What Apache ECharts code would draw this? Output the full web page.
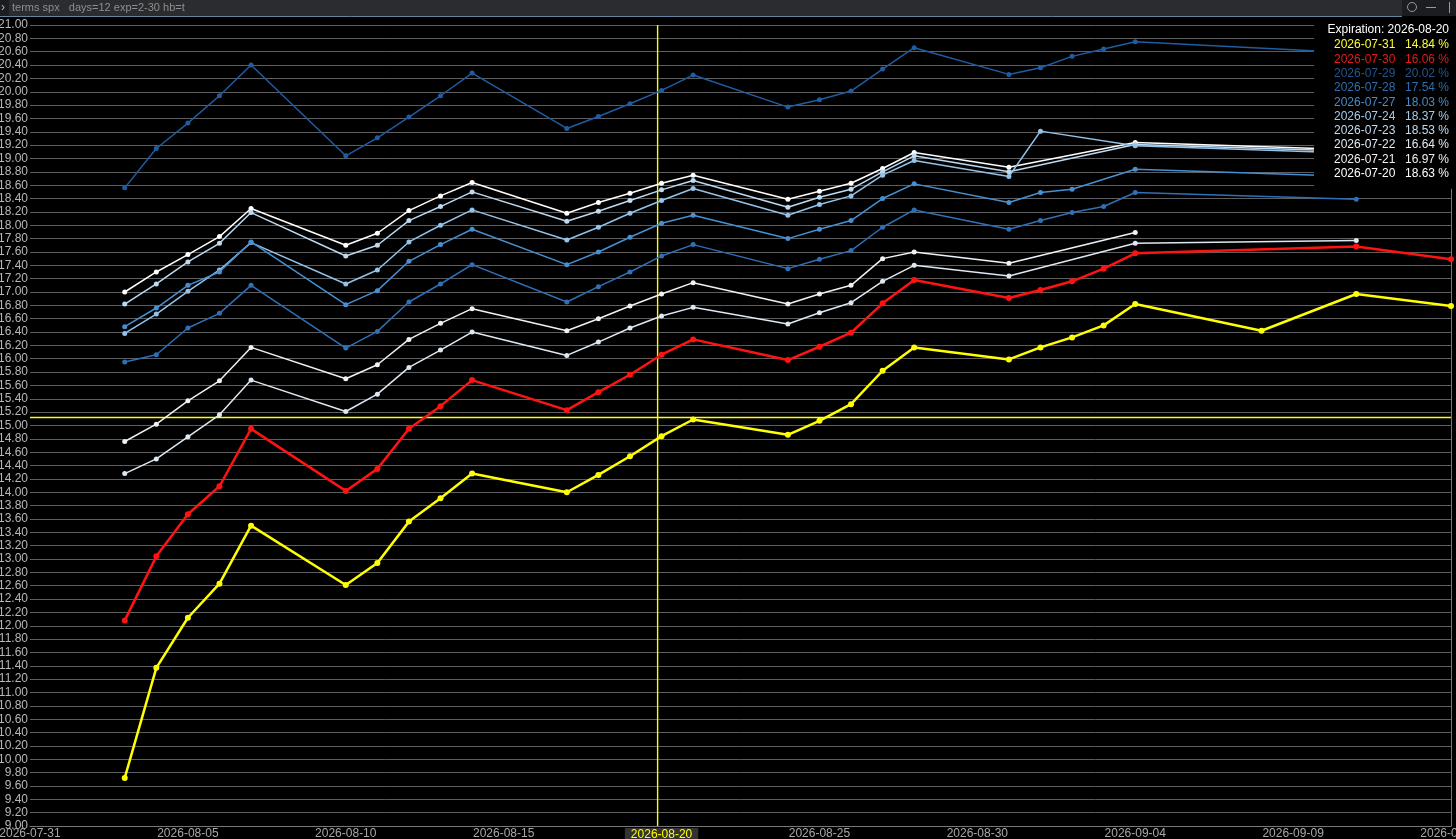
<!DOCTYPE html>
<html>
<head>
<meta charset="utf-8">
<title>terms spx</title>
<script src="https://cdn.jsdelivr.net/npm/echarts@6/dist/echarts.min.js"></script>
<style>
  html, body { margin: 0; padding: 0; background: #000; overflow: hidden; }
  #chart { width: 1456px; height: 839px; }
</style>
</head>
<body>
<div id="chart"></div>
<script>
// expiration dates on the x axis
var expiries = ['2026-08-03', '2026-08-04', '2026-08-05', '2026-08-06', '2026-08-07',
    '2026-08-10', '2026-08-11', '2026-08-12', '2026-08-13', '2026-08-14',
    '2026-08-17', '2026-08-18', '2026-08-19', '2026-08-20', '2026-08-21',
    '2026-08-24', '2026-08-25', '2026-08-26', '2026-08-27', '2026-08-28',
    '2026-08-31', '2026-09-01', '2026-09-02', '2026-09-03', '2026-09-04',
    '2026-09-08', '2026-09-11', '2026-09-14'];

var xFirstTick = '2026-07-31';
var xLastTick = '2026-09-14';
var xTickDays = 5;
var yMin = 9, yMax = 21, yStep = 0.2;

// crosshair
var expirationDate = '2026-08-20';
var crossX = '2026-08-19T21:00';
var crossY = 15.12;

// term structure per trade date (null = no point on that expiry)
var iv0731 = [9.72, 11.37, 12.12, 12.63, 13.50, 12.61, 12.94, 13.56, 13.91, 14.28,
    14.00, 14.26, 14.54, 14.84, 15.09, 14.86, 15.07, 15.32, 15.82, 16.17,
    15.99, 16.17, 16.32, 16.50, 16.82, 16.42, 16.97, 16.79];
var iv0730 = [12.08, 13.04, 13.67, 14.09, 14.95, 14.02, 14.35, 14.95, 15.29, 15.68,
    15.23, 15.50, 15.76, 16.06, 16.29, 15.98, 16.18, 16.39, 16.83, 17.18,
    16.91, 17.03, 17.16, 17.35, 17.58, null, 17.68, 17.49];
var iv0729 = [18.56, 19.15, 19.53, 19.94, 20.40, 19.04, 19.31, 19.62, 19.94, 20.28,
    19.45, 19.63, 19.82, 20.02, 20.25, 19.77, 19.88, 20.01, 20.34, 20.66,
    20.26, 20.36, 20.53, 20.64, 20.75, null, 20.58, null];
var iv0728 = [15.95, 16.06, 16.46, 16.68, 17.10, 16.16, 16.41, 16.85, 17.12, 17.41,
    16.85, 17.08, 17.30, 17.54, 17.71, 17.35, 17.49, 17.62, 17.97, 18.23,
    17.94, 18.07, 18.19, 18.28, 18.49, null, 18.39, null];
var iv0727 = [16.48, 16.76, 17.10, 17.30, 17.75, 16.81, 17.02, 17.46, 17.71, 17.94,
    17.41, 17.60, 17.82, 18.03, 18.15, 17.80, 17.94, 18.07, 18.40, 18.62,
    18.34, 18.49, 18.54, null, 18.84, null, 18.73, null];
var iv0724 = [16.38, 16.67, 17.01, 17.33, 17.74, 17.12, 17.33, 17.75, 18.00, 18.23,
    17.78, 17.97, 18.18, 18.37, 18.55, 18.15, 18.31, 18.44, 18.75, 18.97,
    18.73, 19.41, null, null, 19.19, null, 19.08, null];
var iv0723 = [16.82, 17.12, 17.45, 17.73, 18.19, 17.54, 17.70, 18.07, 18.28, 18.50,
    18.06, 18.21, 18.37, 18.53, 18.67, 18.27, 18.42, 18.54, 18.80, 19.04,
    18.80, null, null, null, 19.21, null, 19.11, null];
var iv0722 = [14.28, 14.50, 14.83, 15.16, 15.68, 15.21, 15.47, 15.87, 16.13, 16.40,
    16.05, 16.25, 16.46, 16.64, 16.77, 16.52, 16.69, 16.84, 17.16, 17.40,
    17.24, null, null, null, 17.73, null, 17.77, null];
var iv0721 = [14.76, 15.02, 15.37, 15.67, 16.17, 15.70, 15.91, 16.29, 16.53, 16.75,
    16.42, 16.60, 16.79, 16.97, 17.14, 16.82, 16.97, 17.10, 17.50, 17.60,
    17.43, null, null, null, 17.89, null, null, null];
var iv0720 = [17.00, 17.30, 17.56, 17.83, 18.25, 17.70, 17.88, 18.22, 18.44, 18.64,
    18.18, 18.34, 18.48, 18.63, 18.75, 18.39, 18.51, 18.63, 18.85, 19.09,
    18.87, null, null, null, 19.24, null, 19.13, null];

var tradeDates = ['2026-07-31', '2026-07-30', '2026-07-29', '2026-07-28', '2026-07-27',
    '2026-07-24', '2026-07-23', '2026-07-22', '2026-07-21', '2026-07-20'];
var atExpiration = [14.84, 16.06, 20.02, 17.54, 18.03, 18.37, 18.53, 16.64, 16.97, 18.63];


var seriesValues = [iv0731, iv0730, iv0729, iv0728, iv0727, iv0724, iv0723, iv0722, iv0721, iv0720];
var lineColors = ['#ffff00', '#ff1212', '#1f5ca2', '#2e70b8', '#4690d2',
    '#93c3ea', '#bcdaf2', '#dde8f3', '#eef2f7', '#ffffff'];
var textColors = ['#ffff33', '#e31b1b', '#22558f', '#2f6cae', '#4a8bc8',
    '#a6cae9', '#c4dcf0', '#e2eaf3', '#f0f0f0', '#ffffff'];
var lineWidths = [2.5, 2.5, 1.5, 1.5, 1.5, 1.5, 1.5, 1.5, 1.5, 1.5];
var crossColor = '#ffff00';

var FONT = '"Liberation Sans", Arial, sans-serif';
var DAY = 86400000;

function ts(s) {
    var p = s.split(/[-T:]/);
    return Date.UTC(+p[0], +p[1] - 1, +p[2], +(p[3] || 0), +(p[4] || 0));
}

function fmtDate(v) {
    return new Date(v).toISOString().slice(0, 10);
}

var myChart = echarts.init(document.getElementById('chart'));

var series = tradeDates.map(function (name, i) {
    var pts = [];
    expiries.forEach(function (d, k) {
        if (seriesValues[i][k] != null) pts.push([ts(d), seriesValues[i][k]]);
    });
    return {
        name: name,
        type: 'line',
        data: pts,
        symbol: 'circle',
        symbolSize: i < 2 ? 6 : 5,
        lineStyle: { color: lineColors[i], width: lineWidths[i] },
        itemStyle: { color: lineColors[i] },
        emphasis: { disabled: true },
        z: 2 + (10 - i) * 0.01
    };
});

// crosshair lines
series.push({
    name: 'crossV',
    type: 'line',
    data: [[ts(crossX), yMin], [ts(crossX), yMax]],
    symbol: 'none',
    silent: true,
    lineStyle: { color: crossColor, width: 1.4 },
    z: 1
}, {
    name: 'crossH',
    type: 'line',
    data: [[ts(xFirstTick), crossY], [ts(xLastTick), crossY]],
    symbol: 'none',
    silent: true,
    lineStyle: { color: crossColor, width: 1.4 },
    z: 1
});

var option = {
    backgroundColor: '#000',
    animation: false,
    textStyle: { fontFamily: FONT },
    grid: { left: 30, right: 5, top: 25, bottom: 13, outerBoundsMode: 'none', containLabel: false },
    title: {
        text: 'Expiration: ' + expirationDate,
        right: 7,
        top: 24,
        padding: 0,
        z: 8,
        textStyle: { color: '#ffffff', fontSize: 12, fontWeight: 'normal', fontFamily: FONT }
    },
    legend: {
        orient: 'vertical',
        right: 0,
        top: 18,
        padding: [20, 7, 8, 15],
        backgroundColor: '#000',
        icon: 'none',
        itemWidth: 0,
        itemHeight: 14,
        itemGap: 0.3,
        selectedMode: false,
        z: 6,
        data: tradeDates.map(function (n, i) {
            return { name: n, textStyle: { color: textColors[i] } };
        }),
        formatter: function (name) {
            var i = tradeDates.indexOf(name);
            return '{d|' + name + '}{v|' + atExpiration[i].toFixed(2) + ' %}';
        },
        textStyle: {
            fontSize: 12,
            fontFamily: FONT,
            lineHeight: 14,
            rich: {
                d: { width: 74, fontSize: 12, fontFamily: FONT },
                v: { width: 41, align: 'right', fontSize: 12, fontFamily: FONT }
            }
        }
    },
    xAxis: {
        type: 'value',
        min: ts(xFirstTick),
        max: ts(xLastTick),
        interval: xTickDays * DAY,
        axisLine: { show: true, lineStyle: { color: '#777' } },
        axisTick: { show: false },
        splitLine: { show: false },
        axisLabel: {
            color: '#a8a8a8',
            fontSize: 12,
            margin: 2,
            showMinLabel: true,
            showMaxLabel: true,
            hideOverlap: false,
            formatter: function (v) {
                var s = fmtDate(v);
                return s === expirationDate ? '{hl|' + s + '}' : s;
            },
            rich: {
                hl: { color: '#ffff00', backgroundColor: '#333333', padding: [1, 6, 2, 6], fontSize: 12, fontFamily: FONT }
            }
        }
    },
    yAxis: [{
        type: 'value',
        min: yMin,
        max: yMax,
        interval: yStep,
        axisLine: { show: false },
        axisTick: { show: false },
        axisLabel: {
            color: '#b8b8b8',
            fontSize: 12,
            margin: 2,
            formatter: function (v) { return v.toFixed(2); }
        },
        splitLine: { lineStyle: { color: '#5e5e5e', width: 1 } }
    }, {
        type: 'value',
        position: 'right',
        min: yMin,
        max: yMax,
        interval: yStep,
        axisLine: { show: true, lineStyle: { color: '#777' } },
        axisTick: { show: false },
        axisLabel: { show: false },
        splitLine: { show: false }
    }],
    graphic: [
        { type: 'rect', shape: { x: 0, y: 0, width: 1456, height: 16 }, style: { fill: '#2a2c30' }, z: 10 },
        { type: 'rect', shape: { x: 0, y: 0, width: 9, height: 16 }, style: { fill: '#1c1d20' }, z: 10 },
        { type: 'rect', shape: { x: 1402, y: 0, width: 54, height: 16 }, style: { fill: '#1c1d20' }, z: 10 },
        { type: 'line', shape: { x1: 0, y1: 16.5, x2: 1402, y2: 16.5 }, style: { stroke: '#5f87a3', lineWidth: 1 }, z: 10 },
        { type: 'text', x: 1, y: 8, style: { text: '›', fill: '#b0b0b0', font: '12px ' + FONT, verticalAlign: 'middle' }, z: 11 },
        { type: 'text', x: 12, y: 8, style: { text: 'terms spx   days=12 exp=2-30 hb=t', fill: '#8e8e8e', font: '11px ' + FONT, verticalAlign: 'middle' }, z: 11 },
        { type: 'circle', shape: { cx: 1412, cy: 7, r: 4.5 }, style: { fill: 'none', stroke: '#9a9a9a', lineWidth: 1 }, z: 11 },
        { type: 'line', shape: { x1: 1426, y1: 7.5, x2: 1436, y2: 7.5 }, style: { stroke: '#9a9a9a', lineWidth: 1 }, z: 11 },
        { type: 'line', shape: { x1: 1449.5, y1: 2, x2: 1449.5, y2: 13 }, style: { stroke: '#9a9a9a', lineWidth: 1 }, z: 11 }
    ],
    series: series
};

myChart.setOption(option);
</script>
</body>
</html>
